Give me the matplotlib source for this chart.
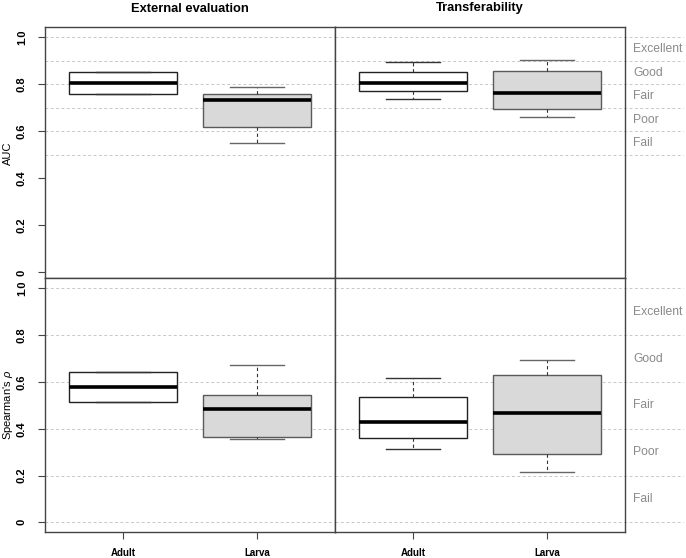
import matplotlib
matplotlib.use('Agg')
import matplotlib.pyplot as plt

plt.rcParams['font.family'] = ['Liberation Sans', 'DejaVu Sans']
plt.rcParams['mathtext.fontset'] = 'custom'
plt.rcParams['mathtext.it'] = 'Liberation Sans:italic'
plt.rcParams['mathtext.rm'] = 'Liberation Sans'

groups = ['Adult', 'Larva']
panel_titles = ['External evaluation', 'Transferability']
metric_labels = ['AUC', "Spearman's $\\rho$"]
ratings = ['Excellent', 'Good', 'Fair', 'Poor', 'Fail']

# five-number summaries: [whisker low, Q1, median, Q3, whisker high]
auc_external_adult = [0.761, 0.761, 0.808, 0.852, 0.852]
auc_external_larva = [0.551, 0.619, 0.733, 0.761, 0.791]
auc_transfer_adult = [0.740, 0.772, 0.808, 0.852, 0.894]
auc_transfer_larva = [0.662, 0.694, 0.765, 0.855, 0.903]
rho_external_adult = [0.513, 0.513, 0.578, 0.644, 0.644]
rho_external_larva = [0.355, 0.363, 0.486, 0.546, 0.672]
rho_transfer_adult = [0.313, 0.359, 0.429, 0.534, 0.615]
rho_transfer_larva = [0.215, 0.293, 0.469, 0.628, 0.695]

auc_rating_bounds = [1.0, 0.9, 0.8, 0.7, 0.6, 0.5]
rho_rating_bounds = [1.0, 0.8, 0.6, 0.4, 0.2, 0.0]
y_ticks = [0, 0.2, 0.4, 0.6, 0.8, 1.0]
y_tick_labels = ['0', '0.2', '0.4', '0.6', '0.8', '1.0']

data = [[auc_external_adult, auc_external_larva, auc_transfer_adult, auc_transfer_larva],
        [rho_external_adult, rho_external_larva, rho_transfer_adult, rho_transfer_larva]]
bounds = [auc_rating_bounds, rho_rating_bounds]

W, H = 686, 558
fig = plt.figure(figsize=(W / 100, H / 100), dpi=100)

xcols = [(45, 335), (335, 625)]
yrows = [(27.3, 278.3), (278.3, 531.7)]
ylims = [(-0.025, 1.043), (-0.04, 1.043)]

styles = {
    'Adult': dict(face='white', edge='#222222', cap='#333333'),
    'Larva': dict(face='#D9D9D9', edge='#5a5a5a', cap='#666666'),
}
spine_col = '#444444'
grid_col = '#c8c8c8'

for r in range(2):
    for c in range(2):
        x0, x1 = xcols[c]
        yt, yb = yrows[r]
        ax = fig.add_axes([x0 / W, 1 - yb / H, (x1 - x0) / W, (yb - yt) / H])
        ax.set_zorder(r + 1)
        ax.set_xlim(0.42, 2.58)
        ax.set_ylim(*ylims[r])
        for s in ax.spines.values():
            s.set_color(spine_col)
            s.set_linewidth(1.0)
        # grid lines
        xend = 1.0 if c == 0 else (683 - x0) / (x1 - x0)
        for b in bounds[r]:
            ax.plot([0, xend], [b, b], transform=ax.get_yaxis_transform(),
                    color=grid_col, lw=0.7, ls=(0, (3, 2.5)), clip_on=False, zorder=0.5)
        # boxes
        for gi, g in enumerate(groups):
            v = data[r][c * 2 + gi]
            st = dict(whislo=v[0], q1=v[1], med=v[2], q3=v[3], whishi=v[4], fliers=[])
            sty = styles[g]
            ax.bxp([st], positions=[gi + 1], widths=0.8, capwidths=0.4,
                   patch_artist=True, showfliers=False,
                   boxprops=dict(facecolor=sty['face'], edgecolor=sty['edge'], linewidth=1.0),
                   medianprops=dict(color='black', linewidth=2.6, solid_capstyle='butt'),
                   whiskerprops=dict(color='#333333', linewidth=0.8, linestyle=(0, (3, 2.5))),
                   capprops=dict(color=sty['cap'], linewidth=1.0),
                   manage_ticks=False, zorder=2)
        # y axis
        if c == 0:
            ax.set_yticks(y_ticks)
            ax.set_yticklabels(y_tick_labels, rotation=90, va='center', fontsize=8,
                               fontweight='bold')
            ax.tick_params(axis='y', length=5, width=0.8, color=spine_col, pad=8)
            fig.text(8 / W, 1 - ((yt + yb) / 2) / H, metric_labels[r], rotation=90,
                     ha='center', va='center', fontsize=8)
        else:
            ax.set_yticks([])
            mids = [(bounds[r][i] + bounds[r][i + 1]) / 2 for i in range(len(ratings))]
            for lab, m in zip(ratings, mids):
                ax.text((633 - x0) / (x1 - x0), m, lab, transform=ax.get_yaxis_transform(),
                        ha='left', va='center', fontsize=8.7, color='#8a8a8a', clip_on=False)
        # x axis
        if r == 1:
            ax.set_xticks([1, 2])
            ax.set_xticklabels(groups, fontsize=7, fontweight='bold')
            ax.tick_params(axis='x', length=5, width=0.8, color=spine_col, pad=7)
        else:
            ax.set_xticks([])
            fig.text(((x0 + x1) / 2) / W, 1 - 8.5 / H, panel_titles[c], ha='center',
                     va='center', fontsize=9.3, fontweight='bold')

fig.savefig('out.png', dpi=100)
